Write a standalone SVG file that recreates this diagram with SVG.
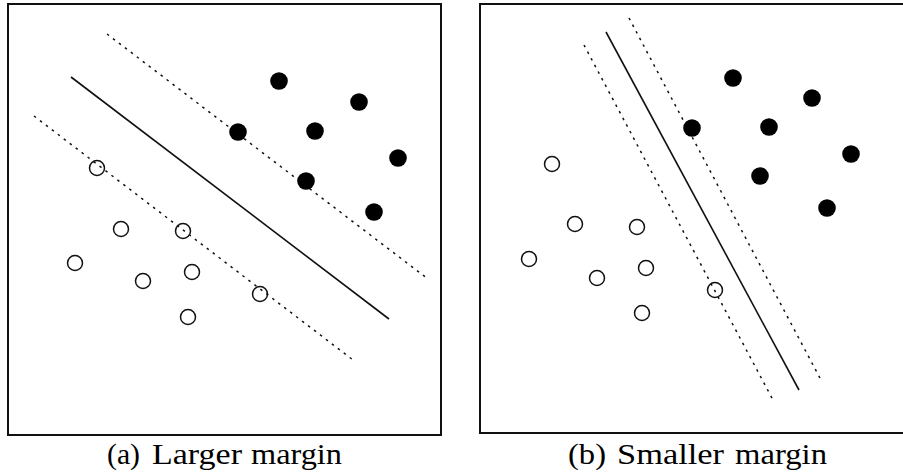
<svg xmlns="http://www.w3.org/2000/svg" width="903" height="472" viewBox="0 0 903 472">
<style>
.frame{fill:none;stroke:#111;stroke-width:2}
.sep{fill:none;stroke:#111;stroke-width:1.6}
.margin{fill:none;stroke:#111;stroke-width:1.5;stroke-dasharray:2.5 5}
.pos{fill:#000}
.neg{fill:none;stroke:#111;stroke-width:1.5}
.cap{font-family:"Liberation Serif","Times New Roman",serif;font-size:29px;fill:#000}
</style>
<rect width="903" height="472" fill="#fff"/>
<g id="panel-a">
<rect class="frame" x="8" y="4" width="433" height="431"/>
<g id="connectors-a">
<line class="sep" x1="71" y1="77" x2="389" y2="319"/>
<line class="margin" x1="107" y1="34" x2="428" y2="279"/>
<line class="margin" x1="34" y1="116" x2="353" y2="360"/>
</g>
<g id="pos-a">
<circle class="pos" cx="279" cy="81" r="8.8"/>
<circle class="pos" cx="359" cy="102" r="8.8"/>
<circle class="pos" cx="238" cy="132" r="8.8"/>
<circle class="pos" cx="315" cy="131" r="8.8"/>
<circle class="pos" cx="398" cy="158" r="8.8"/>
<circle class="pos" cx="306" cy="181" r="8.8"/>
<circle class="pos" cx="374" cy="212" r="8.8"/>
</g>
<g id="neg-a">
<circle class="neg" cx="97" cy="168" r="7.5"/>
<circle class="neg" cx="121" cy="229" r="7.5"/>
<circle class="neg" cx="183" cy="231" r="7.5"/>
<circle class="neg" cx="75" cy="263" r="7.5"/>
<circle class="neg" cx="143" cy="281" r="7.5"/>
<circle class="neg" cx="192" cy="272" r="7.5"/>
<circle class="neg" cx="260" cy="294" r="7.5"/>
<circle class="neg" cx="188" cy="317" r="7.5"/>
</g>
<g id="caption-a">
<text class="cap" x="107" y="464" textLength="33" lengthAdjust="spacingAndGlyphs">(a)</text>
<text class="cap" x="152" y="464" textLength="90" lengthAdjust="spacingAndGlyphs">Larger</text>
<text class="cap" x="251" y="464" textLength="91" lengthAdjust="spacingAndGlyphs">margin</text>
</g>
</g>
<g id="panel-b">
<rect class="frame" x="480" y="4" width="440" height="429"/>
<g id="connectors-b">
<line class="sep" x1="606" y1="32" x2="799" y2="390"/>
<line class="margin" x1="584" y1="45" x2="773" y2="400"/>
<line class="margin" x1="629" y1="18" x2="821" y2="380"/>
</g>
<g id="pos-b">
<circle class="pos" cx="733" cy="78" r="8.8"/>
<circle class="pos" cx="812" cy="98" r="8.8"/>
<circle class="pos" cx="692" cy="128" r="8.8"/>
<circle class="pos" cx="769" cy="127" r="8.8"/>
<circle class="pos" cx="851" cy="154" r="8.8"/>
<circle class="pos" cx="760" cy="176" r="8.8"/>
<circle class="pos" cx="827" cy="208" r="8.8"/>
</g>
<g id="neg-b">
<circle class="neg" cx="552" cy="164" r="7.5"/>
<circle class="neg" cx="575" cy="224" r="7.5"/>
<circle class="neg" cx="637" cy="227" r="7.5"/>
<circle class="neg" cx="529" cy="259" r="7.5"/>
<circle class="neg" cx="597" cy="278" r="7.5"/>
<circle class="neg" cx="646" cy="268" r="7.5"/>
<circle class="neg" cx="715" cy="290" r="7.5"/>
<circle class="neg" cx="642" cy="313" r="7.5"/>
</g>
<g id="caption-b">
<text class="cap" x="568" y="464" textLength="38" lengthAdjust="spacingAndGlyphs">(b)</text>
<text class="cap" x="617" y="464" textLength="107" lengthAdjust="spacingAndGlyphs">Smaller</text>
<text class="cap" x="735" y="464" textLength="92" lengthAdjust="spacingAndGlyphs">margin</text>
</g>
</g>
</svg>
